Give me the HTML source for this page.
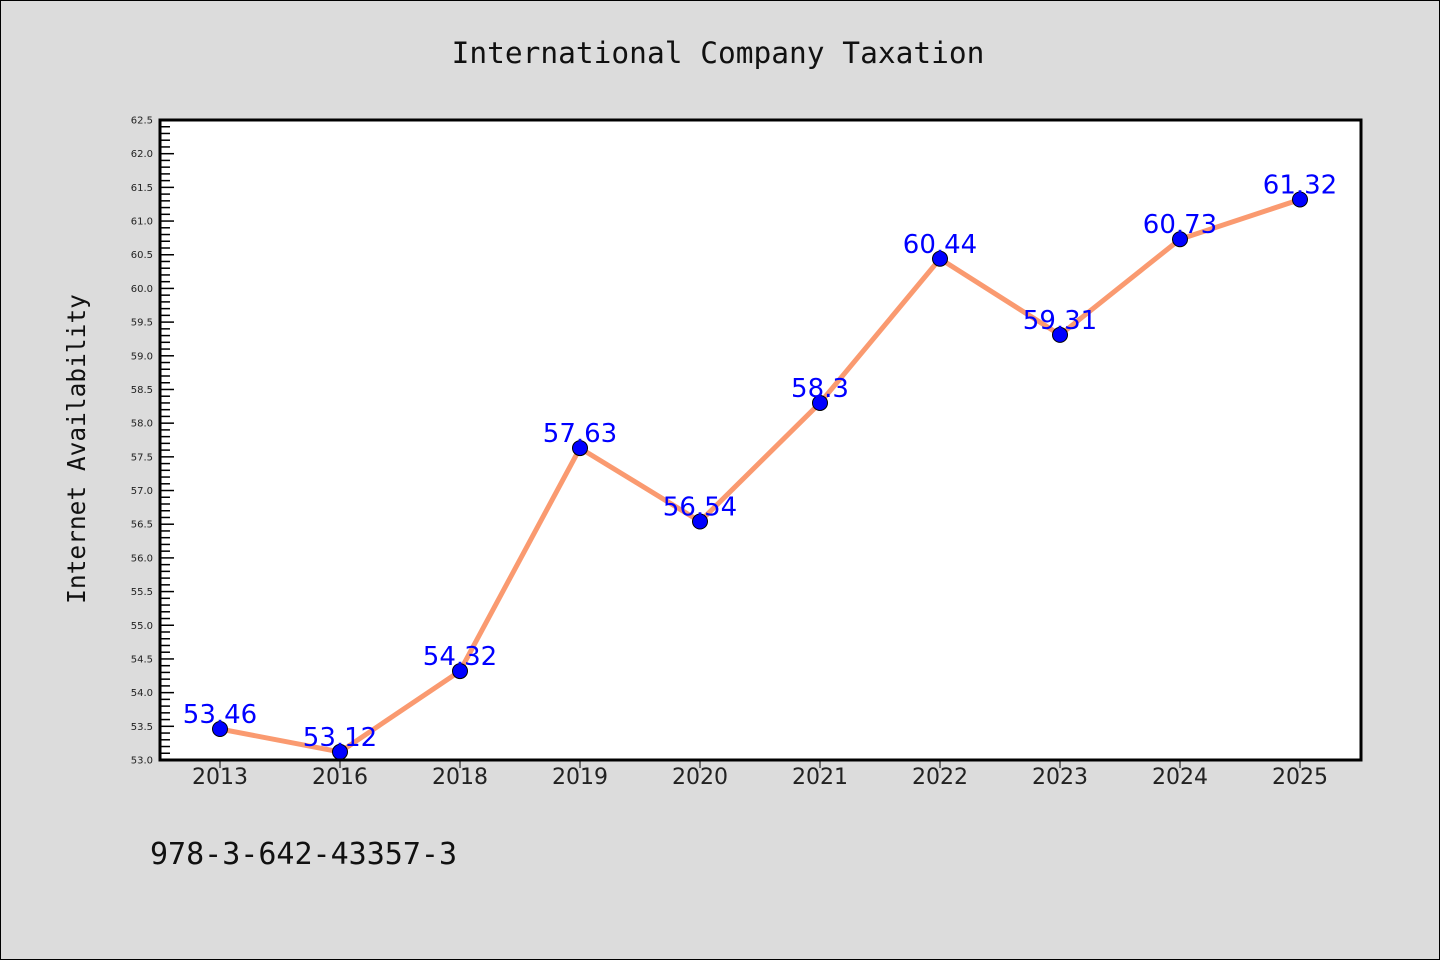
<!DOCTYPE html>
<html><head><meta charset="utf-8"><style>
body{margin:0;background:#dcdcdc;}
svg{display:block;}
</style></head><body>
<svg width="1440" height="960" xmlns="http://www.w3.org/2000/svg">
<rect x="0.5" y="0.5" width="1439" height="959" fill="#dcdcdc" stroke="#000"/>
<text x="718" y="63" text-anchor="middle" font-family="DejaVu Sans Mono, Liberation Mono, monospace" font-size="29.5" fill="#111">International Company Taxation</text>
<text transform="translate(85,449) rotate(-90)" text-anchor="middle" font-family="DejaVu Sans Mono, Liberation Mono, monospace" font-size="24.5" fill="#111">Internet Availability</text>
<text x="150" y="864" font-family="DejaVu Sans Mono, Liberation Mono, monospace" font-size="30" fill="#111">978-3-642-43357-3</text>
<rect x="160" y="120" width="1201" height="640" fill="#fff"/>
<g id="axes"></g>
<g id="marks"></g>
<rect x="160" y="120" width="1201" height="640" fill="none" stroke="#000" stroke-width="3"/>
</svg>
<script>
const categories=["2013","2016","2018","2019","2020","2021","2022","2023","2024","2025"];
const values=[53.46,53.12,54.32,57.63,56.54,58.3,60.44,59.31,60.73,61.32];
const yTicks=["53.0","53.5","54.0","54.5","55.0","55.5","56.0","56.5","57.0","57.5","58.0","58.5","59.0","59.5","60.0","60.5","61.0","61.5","62.0","62.5"];
const NS="http://www.w3.org/2000/svg";
const yMin=53,yMax=62.5,plotTop=120,plotBot=760;
function yS(v){return plotBot-(v-yMin)/(yMax-yMin)*(plotBot-plotTop);}
function xS(i){return 220+i*120;}
function mk(t,a,p){const e=document.createElementNS(NS,t);for(const k in a)e.setAttribute(k,a[k]);p.appendChild(e);return e;}
const ax=document.getElementById('axes'),mg=document.getElementById('marks');
for(let k=0;k<=95;k++){const v=yMin+k*0.1;const major=k%5===0;
 const l=mk('line',{x1:160,x2:major?174:170,y1:yS(v),y2:yS(v),stroke:'#000','stroke-width':1.5},ax);
 
 }
yTicks.forEach(s=>{const t=mk('text',{x:153,y:yS(parseFloat(s))+3.5,'text-anchor':'end','font-family':'DejaVu Sans, sans-serif','font-size':10,fill:'#222'},ax);t.textContent=s;
 
 });
categories.forEach((c,i)=>{const l=mk('line',{x1:xS(i),x2:xS(i),y1:760,y2:768,stroke:'#000','stroke-width':1},ax);
 
 
 const t=mk('text',{x:xS(i),y:784,'text-anchor':'middle','font-family':'DejaVu Sans, sans-serif','font-size':22,fill:'#222'},ax);t.textContent=c;
 
 });
const pl=mk('polyline',{points:values.map((v,i)=>xS(i)+','+yS(v)).join(' '),fill:'none',stroke:'#fa9a70','stroke-width':5,'stroke-linejoin':'round'},mg);


values.forEach((v,i)=>{const c=mk('circle',{cx:xS(i),cy:yS(v),r:7.5,fill:'#0000ff',stroke:'#000','stroke-width':1},mg);
 
 
 const t=mk('text',{x:xS(i),y:yS(v)-6,'text-anchor':'middle','font-family':'DejaVu Sans, sans-serif','font-size':26,fill:'#0000ff'},mg);t.textContent=String(v);
 
 });
</script>
</body></html>
